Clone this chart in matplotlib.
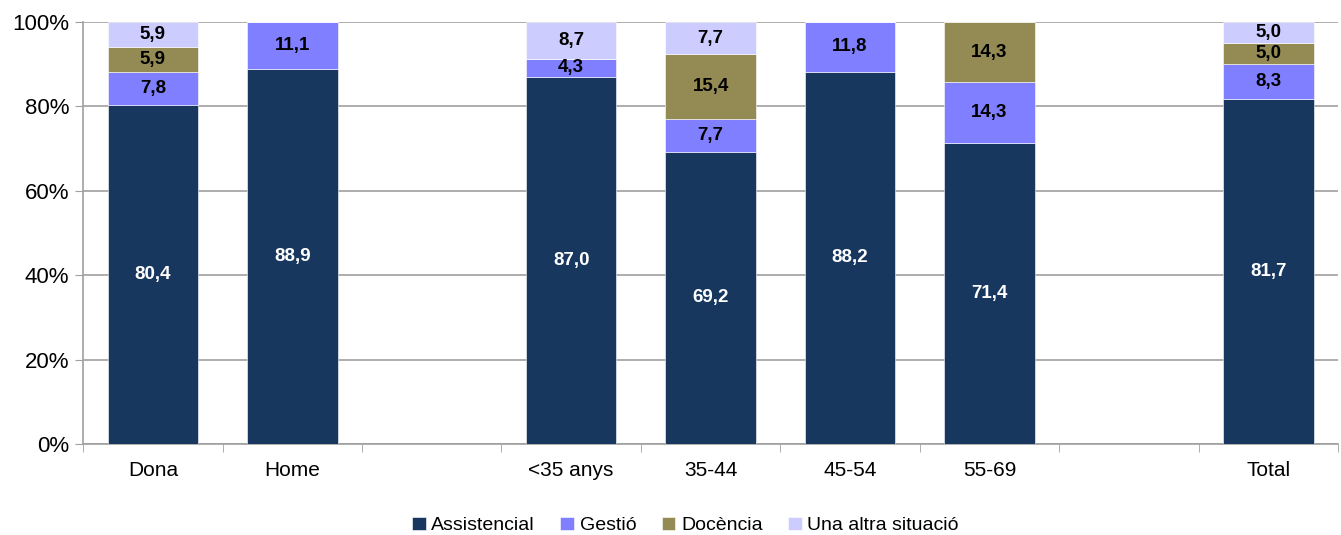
import matplotlib.pyplot as plt
import numpy as np

plt.rcParams['font.family'] = ['Liberation Sans', 'DejaVu Sans']

categories = ['Dona', 'Home', '', '<35 anys', '35-44', '45-54', '55-69', '', 'Total']
assistencial = [80.4, 88.9, 0, 87.0, 69.2, 88.2, 71.4, 0, 81.7]
gestio = [7.8, 11.1, 0, 4.3, 7.7, 11.8, 14.3, 0, 8.3]
docencia = [5.9, 0, 0, 0, 15.4, 0, 14.3, 0, 5.0]
altra = [5.9, 0, 0, 8.7, 7.7, 0, 0, 0, 5.0]

series = [
    ('Assistencial', assistencial, '#17375e', 'white'),
    ('Gestió', gestio, '#7f7fff', 'black'),
    ('Docència', docencia, '#948a54', 'black'),
    ('Una altra situació', altra, '#ccccff', 'black'),
]

fig = plt.figure(figsize=(13.41, 5.35), dpi=100)
ax = fig.add_axes([0.062, 0.17, 0.9358, 0.789])

x = np.arange(len(categories))
bottom = np.zeros(len(categories))
for name, vals, col, tcol in series:
    vals = np.array(vals, dtype=float)
    ax.bar(x, vals, 0.65, bottom=bottom, color=col, label=name,
           edgecolor='white', linewidth=0.4, zorder=3)
    for xi, v, b in zip(x, vals, bottom):
        if v > 0:
            ax.text(xi, b + v / 2, f'{v:.1f}'.replace('.', ','), ha='center', va='center',
                    color=tcol, fontsize=13.5, fontweight='bold', zorder=4)
    bottom += vals

ax.set_xlim(-0.5, len(categories) - 0.5)
ax.set_ylim(0, 100)
ax.set_yticks(np.arange(0, 101, 20))
ax.set_yticklabels([f'{v}%' for v in range(0, 101, 20)], fontsize=16)
ax.yaxis.grid(True, color='#a0a0a0', linewidth=1.2, zorder=0)
ax.set_xticks(x)
ax.set_xticklabels(categories, fontsize=15)
ax.set_xticks(np.arange(-0.5, len(categories), 1), minor=True)
ax.tick_params(axis='x', which='major', length=0, pad=12)
ax.tick_params(axis='x', which='minor', length=6, color='#a0a0a0')
ax.tick_params(axis='y', length=6, color='#a0a0a0', pad=4)
for s in ['top', 'right']:
    ax.spines[s].set_visible(False)
for s in ['left', 'bottom']:
    ax.spines[s].set_color('#a0a0a0')
    ax.spines[s].set_linewidth(1.2)

ax.legend(loc='lower center', bbox_to_anchor=(0.48, -0.255), ncol=4, frameon=False,
          fontsize=14, handlelength=0.7, handleheight=0.7, handletextpad=0.3,
          columnspacing=1.3)

fig.savefig('out.png', dpi=100)
